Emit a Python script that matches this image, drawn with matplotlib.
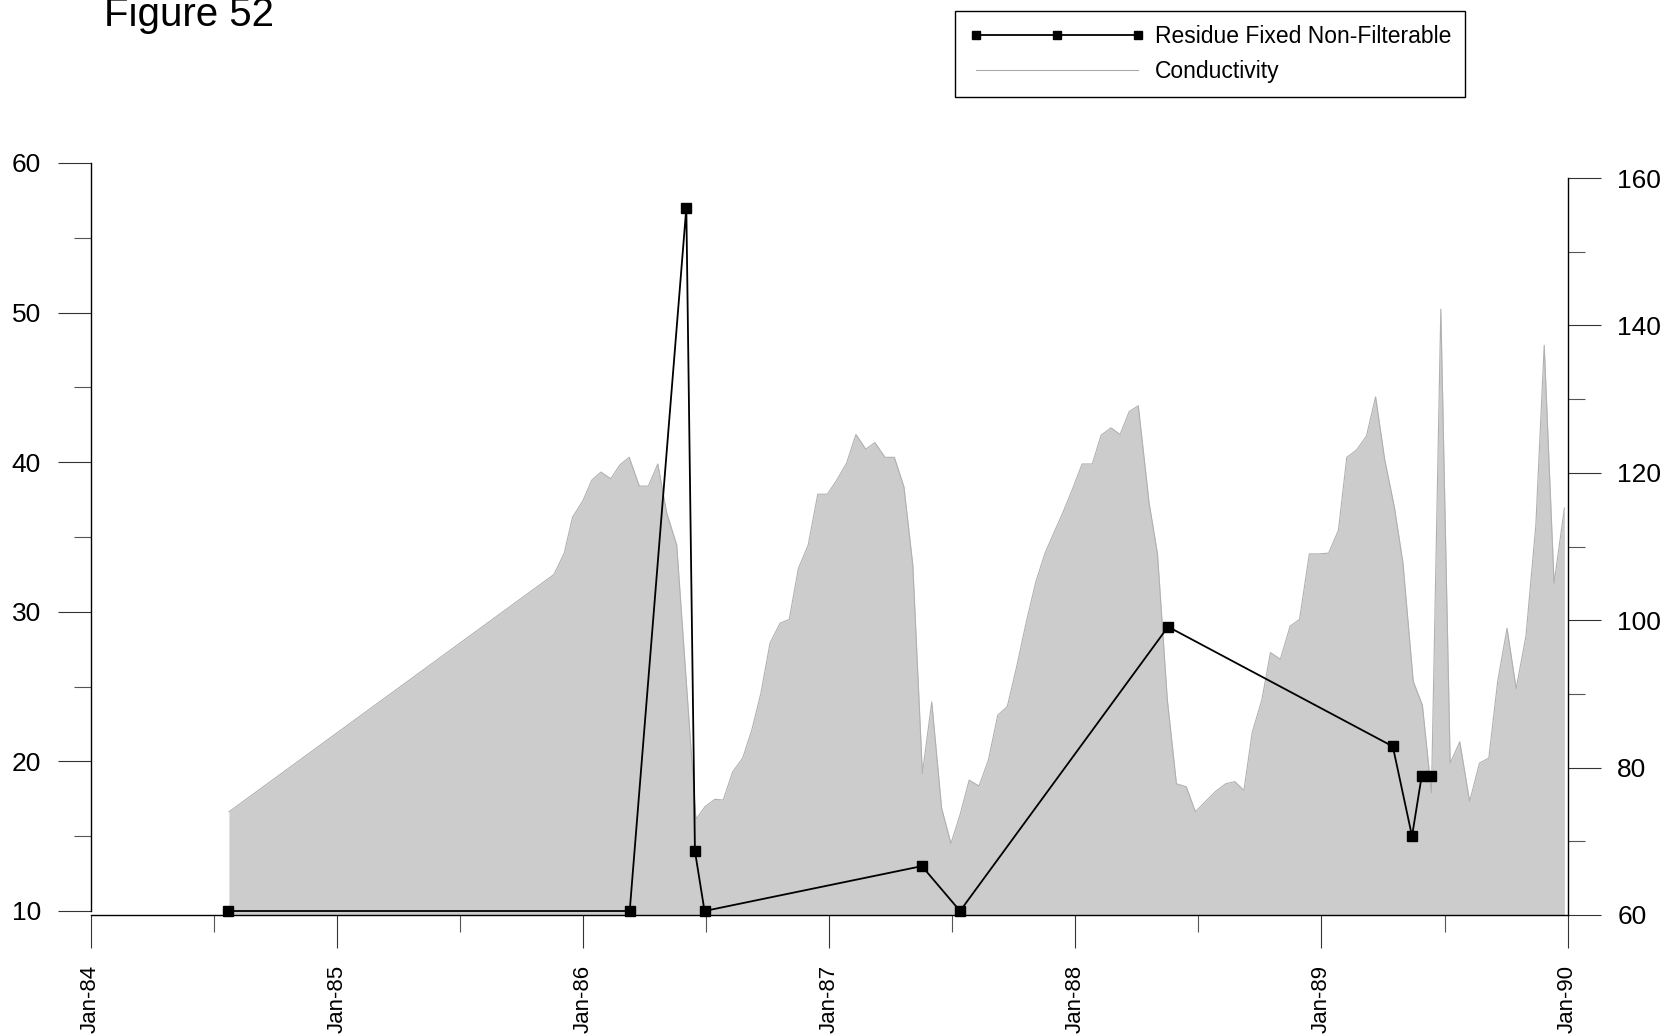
import matplotlib
matplotlib.use("Agg")
import matplotlib.pyplot as plt
from matplotlib.ticker import FixedLocator
from matplotlib.lines import Line2D

plt.rcParams['font.family'] = ['Liberation Sans', 'DejaVu Sans']

# Residue Fixed Non-Filterable (left axis), sample dates as decimal years
residue_year = [1984.558, 1986.190, 1986.420, 1986.455, 1986.494, 1987.377,
                1987.532, 1988.377, 1989.290, 1989.368, 1989.407, 1989.446]
residue_val = [10, 10, 57, 14, 10, 13, 10, 29, 21, 15, 19, 19]

# Conductivity (right axis)
cond_year = [1984.562,
             1985.882, 1985.904, 1985.924, 1985.958, 1985.981, 1986.001,
             1986.036, 1986.073, 1986.113, 1986.151, 1986.188, 1986.229,
             1986.266, 1986.304, 1986.340, 1986.381,
             1986.459, 1986.496, 1986.536, 1986.570, 1986.608, 1986.649,
             1986.686, 1986.723, 1986.760, 1986.801, 1986.838, 1986.875,
             1986.915, 1986.954, 1986.993,
             1987.031, 1987.071, 1987.109, 1987.149, 1987.186, 1987.227,
             1987.265, 1987.304, 1987.340, 1987.379, 1987.417, 1987.457,
             1987.495, 1987.532, 1987.569, 1987.609, 1987.647, 1987.685,
             1987.724, 1987.762, 1987.800, 1987.839, 1987.877, 1987.915,
             1987.951, 1987.990,
             1988.028, 1988.069, 1988.105, 1988.145, 1988.182, 1988.219,
             1988.256, 1988.300, 1988.334, 1988.374, 1988.411, 1988.451,
             1988.488, 1988.529, 1988.571, 1988.611, 1988.648, 1988.685,
             1988.719, 1988.758, 1988.793, 1988.833, 1988.873, 1988.911,
             1988.951, 1988.990,
             1989.029, 1989.069, 1989.103, 1989.143, 1989.183, 1989.220,
             1989.257, 1989.296, 1989.331, 1989.373, 1989.410, 1989.447,
             1989.485, 1989.523, 1989.562, 1989.602, 1989.642, 1989.680,
             1989.716, 1989.754, 1989.791, 1989.831, 1989.871, 1989.905,
             1989.945, 1989.987]
cond_val = [74.0,
            106.2, 107.7, 109.1, 114.0, 115.2, 116.3, 119.0, 120.1, 119.2,
            121.1, 122.1, 118.2, 118.2, 121.2, 114.6, 110.2,
            73.0, 74.7, 75.7, 75.6, 79.4, 81.3, 85.1, 90.1, 96.9, 99.6,
            100.1, 107.0, 110.2, 117.1, 117.1,
            119.0, 121.3, 125.2, 123.2, 124.1, 122.1, 122.1, 118.1, 107.5,
            79.2, 88.9, 74.5, 69.7, 73.6, 78.3, 77.5, 81.0, 87.1, 88.3,
            93.7, 99.6, 105.1, 109.1, 112.0, 114.7, 117.9,
            121.2, 121.2, 125.1, 126.1, 125.2, 128.3, 129.1, 115.9, 109.0,
            89.2, 77.8, 77.4, 74.0, 75.4, 76.8, 77.8, 78.1, 76.9, 84.8,
            89.2, 95.6, 94.7, 99.2, 100.1, 109.0, 109.0,
            109.1, 112.2, 122.1, 123.1, 125.0, 130.3, 121.8, 115.4, 107.8,
            91.7, 88.5, 76.6, 142.2, 80.6, 83.5, 75.4, 80.6, 81.3, 91.7,
            98.9, 90.7, 97.9, 112.9, 137.3, 105.0, 115.2]

year_ticks = [1984, 1985, 1986, 1987, 1988, 1989, 1990]
year_labels = ['Jan-84', 'Jan-85', 'Jan-86', 'Jan-87', 'Jan-88', 'Jan-89', 'Jan-90']
half_ticks = [1984.5, 1985.5, 1986.5, 1987.5, 1988.5, 1989.5]

W, H = 1671, 1036
fig = plt.figure(figsize=(W / 100, H / 100), dpi=100)

x0 = 90.6 / W
wd = 1477 / W
bot = (H - 915) / H
ax_c = fig.add_axes([x0, bot, wd, (915 - 178) / H])
ax_r = fig.add_axes([x0, bot, wd, (915 - 163) / H], sharex=ax_c)
ax_r.patch.set_visible(False)

TICK = dict(length=23.8, width=0.8, pad=12, labelsize=19, color='#333333')
MINOR = dict(length=11.9, width=0.8, color='#555555')

# conductivity area on the right axis
ax_c.fill_between(cond_year, 60, cond_val, color='#cccccc', linewidth=0)
ax_c.plot(cond_year, cond_val, color='#b0b0b0', linewidth=0.8)
ax_c.set_xlim(1984, 1990)
ax_c.set_ylim(60, 160)
ax_c.yaxis.tick_right()
ax_c.yaxis.set_major_locator(FixedLocator([60, 80, 100, 120, 140, 160]))
ax_c.yaxis.set_minor_locator(FixedLocator([70, 90, 110, 130, 150]))
ax_c.xaxis.set_major_locator(FixedLocator(year_ticks))
ax_c.xaxis.set_minor_locator(FixedLocator(half_ticks))
ax_c.set_xticklabels(year_labels, rotation=90)
ax_c.tick_params(axis='both', which='major', direction='out', **TICK)
ax_c.tick_params(axis='both', which='minor', direction='out', **MINOR)
ax_c.tick_params(axis='x', which='major', labelsize=16)
for s in ['top', 'left']:
    ax_c.spines[s].set_visible(False)
for s in ['bottom', 'right']:
    ax_c.spines[s].set_linewidth(1.0)

# residue line on the left axis
ax_r.plot(residue_year, residue_val, color='black', linewidth=1.3,
          marker='s', markersize=6.5, zorder=5, clip_on=False)
ax_r.set_ylim(10 - 4 / 14.96, 60)
ax_r.yaxis.set_major_locator(FixedLocator([10, 20, 30, 40, 50, 60]))
ax_r.yaxis.set_minor_locator(FixedLocator([15, 25, 35, 45, 55]))
ax_r.tick_params(axis='y', which='major', direction='out', **TICK)
ax_r.tick_params(axis='y', which='minor', direction='out', **MINOR)
ax_r.tick_params(axis='x', which='both', bottom=False, labelbottom=False)
for s in ['top', 'right', 'bottom']:
    ax_r.spines[s].set_visible(False)
ax_r.spines['left'].set_bounds(10, 60)
ax_r.spines['left'].set_linewidth(1.0)

fig.text(104 / W, 1 - 26 / H, 'Figure 52', fontsize=29, va='baseline', ha='left')

handles = [Line2D([], [], color='black', linewidth=1.3, marker='s', markersize=6),
           Line2D([], [], color='#aaaaaa', linewidth=0.8)]
leg = fig.legend(handles, ['Residue Fixed Non-Filterable', 'Conductivity'],
                 loc='upper left', bbox_to_anchor=(955 / W, 1 - 11 / H),
                 borderaxespad=0, fontsize=16.5, numpoints=3, handlelength=7.65,
                 handletextpad=0.45, borderpad=0.62, labelspacing=0.51,
                 fancybox=False, framealpha=1, edgecolor='black')
leg.get_frame().set_linewidth(1.0)

fig.savefig('out.png', dpi=100)
